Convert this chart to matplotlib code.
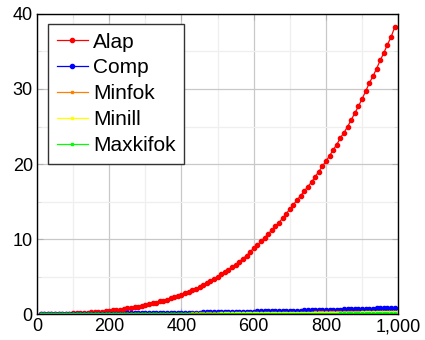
import matplotlib
matplotlib.use('Agg')
import matplotlib.pyplot as plt
from matplotlib.ticker import MultipleLocator, FuncFormatter

plt.rcParams['font.family'] = ['Liberation Sans', 'DejaVu Sans']

# problem size (x) and the measured values of each method
sizes = list(range(10, 1000, 10))

alap = [0.0, 0.0, 0.01, 0.01, 0.02, 0.03, 0.04, 0.06, 0.08,
        0.1, 0.12, 0.14, 0.17, 0.2, 0.23, 0.26, 0.3, 0.34, 0.39,
        0.45, 0.5, 0.55, 0.62, 0.7, 0.78, 0.85, 0.93, 1.02, 1.12,
        1.25, 1.35, 1.45, 1.55, 1.7, 1.8, 1.95, 2.1, 2.25, 2.4,
        2.6, 2.8, 3.0, 3.2, 3.4, 3.6, 3.9, 4.1, 4.4, 4.7,
        5.0, 5.3, 5.6, 5.9, 6.3, 6.6, 7.0, 7.4, 7.8, 8.3,
        8.8, 9.2, 9.7, 10.2, 10.7, 11.2, 11.7, 12.2, 12.8, 13.4,
        14.0, 14.6, 15.2, 15.8, 16.4, 17.0, 17.6, 18.3, 19.0, 19.7,
        20.4, 21.1, 21.9, 22.6, 23.5, 24.2, 25.0, 25.9, 26.8, 27.7,
        28.7, 29.7, 30.8, 31.7, 32.7, 33.8, 34.8, 35.9, 36.9, 38.2]

comp = [0.0, 0.0, 0.01, 0.01, 0.01, 0.01, 0.02, 0.02, 0.02,
        0.02, 0.03, 0.03, 0.03, 0.04, 0.04, 0.04, 0.05, 0.05, 0.06,
        0.06, 0.06, 0.07, 0.08, 0.08, 0.09, 0.09, 0.10, 0.11, 0.11,
        0.12, 0.12, 0.13, 0.14, 0.14, 0.15, 0.16, 0.16, 0.17, 0.18,
        0.18, 0.19, 0.20, 0.21, 0.22, 0.22, 0.23, 0.24, 0.25, 0.26,
        0.26, 0.27, 0.28, 0.29, 0.30, 0.31, 0.32, 0.33, 0.34, 0.35,
        0.35, 0.36, 0.37, 0.38, 0.39, 0.40, 0.41, 0.42, 0.43, 0.44,
        0.45, 0.46, 0.47, 0.48, 0.50, 0.51, 0.52, 0.53, 0.55, 0.56,
        0.57, 0.58, 0.60, 0.61, 0.62, 0.64, 0.65, 0.66, 0.68, 0.69,
        0.70, 0.72, 0.73, 0.75, 0.76, 0.78, 0.79, 0.81, 0.83, 0.85]

minfok = [0, 0, 0, 0, 0, 0.01, 0.01, 0.01, 0.01,
          0.01, 0.01, 0.01, 0.01, 0.02, 0.02, 0.02, 0.02, 0.02, 0.02,
          0.03, 0.03, 0.03, 0.03, 0.03, 0.04, 0.04, 0.04, 0.04, 0.05,
          0.05, 0.05, 0.05, 0.06, 0.06, 0.06, 0.07, 0.07, 0.07, 0.07,
          0.08, 0.08, 0.08, 0.09, 0.09, 0.09, 0.10, 0.10, 0.10, 0.11,
          0.11, 0.11, 0.12, 0.12, 0.13, 0.13, 0.13, 0.14, 0.14, 0.15,
          0.15, 0.15, 0.16, 0.16, 0.17, 0.17, 0.18, 0.18, 0.18, 0.19,
          0.19, 0.20, 0.20, 0.21, 0.21, 0.22, 0.22, 0.23, 0.23, 0.24,
          0.24, 0.25, 0.25, 0.26, 0.26, 0.27, 0.27, 0.28, 0.28, 0.29,
          0.29, 0.30, 0.30, 0.31, 0.31, 0.32, 0.32, 0.33, 0.34, 0.35]

minill = [0, 0, 0, 0, 0, 0, 0.01, 0.01, 0.01,
          0.01, 0.01, 0.01, 0.01, 0.01, 0.01, 0.02, 0.02, 0.02, 0.02,
          0.02, 0.02, 0.02, 0.03, 0.03, 0.03, 0.03, 0.03, 0.03, 0.04,
          0.04, 0.04, 0.04, 0.04, 0.05, 0.05, 0.05, 0.05, 0.05, 0.06,
          0.06, 0.06, 0.06, 0.07, 0.07, 0.07, 0.07, 0.08, 0.08, 0.08,
          0.08, 0.09, 0.09, 0.09, 0.10, 0.10, 0.10, 0.11, 0.11, 0.11,
          0.12, 0.12, 0.12, 0.13, 0.13, 0.13, 0.14, 0.14, 0.14, 0.15,
          0.15, 0.15, 0.16, 0.16, 0.16, 0.17, 0.17, 0.18, 0.18, 0.18,
          0.19, 0.19, 0.20, 0.20, 0.20, 0.21, 0.21, 0.22, 0.22, 0.22,
          0.23, 0.23, 0.24, 0.24, 0.25, 0.25, 0.26, 0.26, 0.27, 0.27]

maxkifok = [0, 0, 0, 0, 0, 0, 0, 0, 0,
            0, 0, 0, 0.01, 0.01, 0.01, 0.01, 0.01, 0.01, 0.01,
            0.01, 0.01, 0.01, 0.01, 0.01, 0.01, 0.01, 0.01, 0.02, 0.02,
            0.02, 0.02, 0.02, 0.02, 0.02, 0.02, 0.02, 0.02, 0.02, 0.03,
            0.03, 0.03, 0.03, 0.03, 0.03, 0.03, 0.03, 0.03, 0.04, 0.04,
            0.04, 0.04, 0.04, 0.04, 0.04, 0.04, 0.04, 0.05, 0.05, 0.05,
            0.05, 0.05, 0.05, 0.05, 0.05, 0.06, 0.06, 0.06, 0.06, 0.06,
            0.06, 0.06, 0.07, 0.07, 0.07, 0.07, 0.07, 0.07, 0.08, 0.08,
            0.08, 0.08, 0.08, 0.08, 0.09, 0.09, 0.09, 0.09, 0.09, 0.09,
            0.10, 0.10, 0.10, 0.10, 0.10, 0.11, 0.11, 0.11, 0.11, 0.12]

fig = plt.figure(figsize=(4.25, 3.4), dpi=100)
ax = fig.add_axes([0.087, 0.076, 0.85, 0.883])

ax.plot(sizes, alap, color='#ff0000', lw=0.9, marker='o', ms=3, label='Alap')
ax.plot(sizes, comp, color='#0000ff', lw=0.9, marker='o', ms=3, label='Comp')
ax.plot(sizes, minfok, color='#ff8000', lw=0.9, marker='s', ms=1.8, label='Minfok')
ax.plot(sizes, minill, color='#ffff00', lw=0.9, marker='s', ms=1.8, label='Minill')
ax.plot(sizes, maxkifok, color='#00ff00', lw=0.9, marker='s', ms=1.8, label='Maxkifok')

ax.set_xlim(0, 1000)
ax.set_ylim(0, 40)
ax.xaxis.set_major_locator(MultipleLocator(200))
ax.xaxis.set_minor_locator(MultipleLocator(100))
ax.yaxis.set_major_locator(MultipleLocator(10))
ax.yaxis.set_minor_locator(MultipleLocator(5))
ax.xaxis.set_major_formatter(FuncFormatter(lambda v, p: f'{v:,.0f}'))

ax.grid(which='major', color='#c8c8c8', lw=0.9)
ax.grid(which='minor', color='#efefef', lw=0.9)
ax.set_axisbelow(True)
ax.tick_params(which='both', direction='in', top=True, right=True, labelsize=13, pad=3)
ax.tick_params(which='major', length=4, color='#b0b0b0')
ax.tick_params(which='minor', length=3, color='#dddddd')
for s in ax.spines.values():
    s.set_linewidth(1.0)

leg = ax.legend(loc='upper left', bbox_to_anchor=(0.03, 0.967), borderaxespad=0,
                fontsize=15, fancybox=False, framealpha=1, edgecolor='#333333',
                handlelength=1.5, handletextpad=0.25, labelspacing=0.33,
                borderpad=0.42)
leg.get_frame().set_linewidth(1.0)

fig.savefig('out.png', dpi=100)
